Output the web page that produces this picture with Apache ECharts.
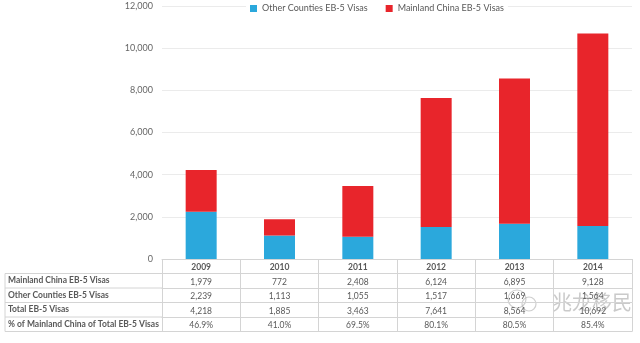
<!DOCTYPE html>
<html>
<head>
<meta charset="utf-8">
<script src="https://cdn.jsdelivr.net/npm/echarts@6/dist/echarts.min.js"></script>
<style>html,body{margin:0;padding:0;background:#fff}#c{width:640px;height:343px}</style>
</head>
<body>
<div id="c"></div>
<script>
const years = ['2009', '2010', '2011', '2012', '2013', '2014'];
const mainland = [1979, 772, 2408, 6124, 6895, 9128];
const other = [2239, 1113, 1055, 1517, 1669, 1564];
const yMin = 0, yMax = 12000, yStep = 2000;
const seriesNames = ['Other Counties EB-5 Visas', 'Mainland China EB-5 Visas'];
const rowLabels = ['Mainland China EB-5 Visas', 'Other Counties EB-5 Visas', 'Total EB-5 Visas', '% of Mainland China of Total EB-5 Visas'];

const total = mainland.map((v, i) => v + other[i]);
const pct = mainland.map((v, i) => (v / total[i] * 100).toFixed(1) + '%');
const fmt = v => v.toLocaleString('en-US');
const rows = [mainland.map(fmt), other.map(fmt), total.map(fmt), pct];

const FONT = 'Lato, "Open Sans", sans-serif';
const TXT = '#595959';
const BORDER = '#d4d4d4';
const ROWH = 14.5;
const GRID_BOTTOM = 84;

const chart = echarts.init(document.getElementById('c'));

const xAxes = [{
  type: 'category', data: years, gridIndex: 0, position: 'bottom', offset: 0,
  axisLine: {show: true, lineStyle: {color: BORDER}},
  axisTick: {show: true, length: ROWH, lineStyle: {color: BORDER}},
  axisLabel: {color: TXT, fontSize: 8.5, fontWeight: 'bold', fontFamily: FONT, margin: 4}
}];
rows.forEach((r, i) => {
  xAxes.push({
    type: 'category', data: r, gridIndex: 0, position: 'bottom', offset: ROWH * (i + 1),
    axisLine: {show: true, lineStyle: {color: BORDER}},
    axisTick: {show: true, length: ROWH, lineStyle: {color: BORDER}},
    axisLabel: {color: TXT, fontSize: 8.5, fontFamily: FONT, margin: 4, interval: 0}
  });
});
xAxes.push({
  type: 'category', data: years, gridIndex: 0, position: 'bottom', offset: ROWH * 5,
  axisLine: {show: true, lineStyle: {color: BORDER}},
  axisTick: {show: false}, axisLabel: {show: false}
});

const H = 343;
const tableTop = H - GRID_BOTTOM + ROWH;
const graphics = [];
for (let i = 0; i <= 4; i++) {
  graphics.push({type: 'line', shape: {x1: 5, y1: tableTop + ROWH * i, x2: 162, y2: tableTop + ROWH * i}, style: {stroke: BORDER, lineWidth: 1}});
}
graphics.push({type: 'line', shape: {x1: 5, y1: tableTop, x2: 5, y2: tableTop + ROWH * 4}, style: {stroke: BORDER, lineWidth: 1}});
rowLabels.forEach((t, i) => {
  graphics.push({type: 'text', x: 8, y: tableTop + ROWH * i + ROWH / 2,
    style: {text: t, fill: TXT, font: 'bold 8.5px ' + FONT, textVerticalAlign: 'middle', textAlign: 'left'}});
});
// watermark
graphics.push({type: 'circle', shape: {cx: 517, cy: 299, r: 9}, style: {fill: 'none', stroke: 'rgba(160,160,160,0.5)', lineWidth: 1.2}});
graphics.push({type: 'circle', shape: {cx: 529, cy: 304, r: 7}, style: {fill: 'none', stroke: 'rgba(160,160,160,0.5)', lineWidth: 1.2}});
graphics.push({type: 'text', x: 552, y: 302, style: {text: '兆龙移民', fill: 'rgba(150,150,150,0.5)', font: '20px "Noto Sans CJK SC"', textVerticalAlign: 'middle'}});

chart.setOption({
  animation: false,
  textStyle: {fontFamily: FONT},
  legend: {
    data: seriesNames, top: 2, left: 246, icon: 'rect', itemWidth: 7, itemHeight: 7, itemGap: 18,
    textStyle: {color: TXT, fontSize: 9, fontFamily: FONT}, backgroundColor: '#fff', padding: [2, 4]
  },
  grid: {left: 162, right: 8, top: 6, bottom: GRID_BOTTOM, containLabel: false},
  xAxis: xAxes,
  yAxis: {
    type: 'value', min: yMin, max: yMax, interval: yStep,
    axisLine: {show: false}, axisTick: {show: false},
    splitLine: {lineStyle: {color: '#ebebeb'}},
    axisLabel: {color: '#666', fontSize: 9, fontFamily: FONT, margin: 9, formatter: v => fmt(v)}
  },
  series: [
    {name: seriesNames[0], type: 'bar', stack: 'a', data: other, barWidth: 31, itemStyle: {color: '#2ba8dc'}},
    {name: seriesNames[1], type: 'bar', stack: 'a', data: mainland, barWidth: 31, itemStyle: {color: '#e8252b'}}
  ],
  graphic: graphics
});
</script>
</body>
</html>
